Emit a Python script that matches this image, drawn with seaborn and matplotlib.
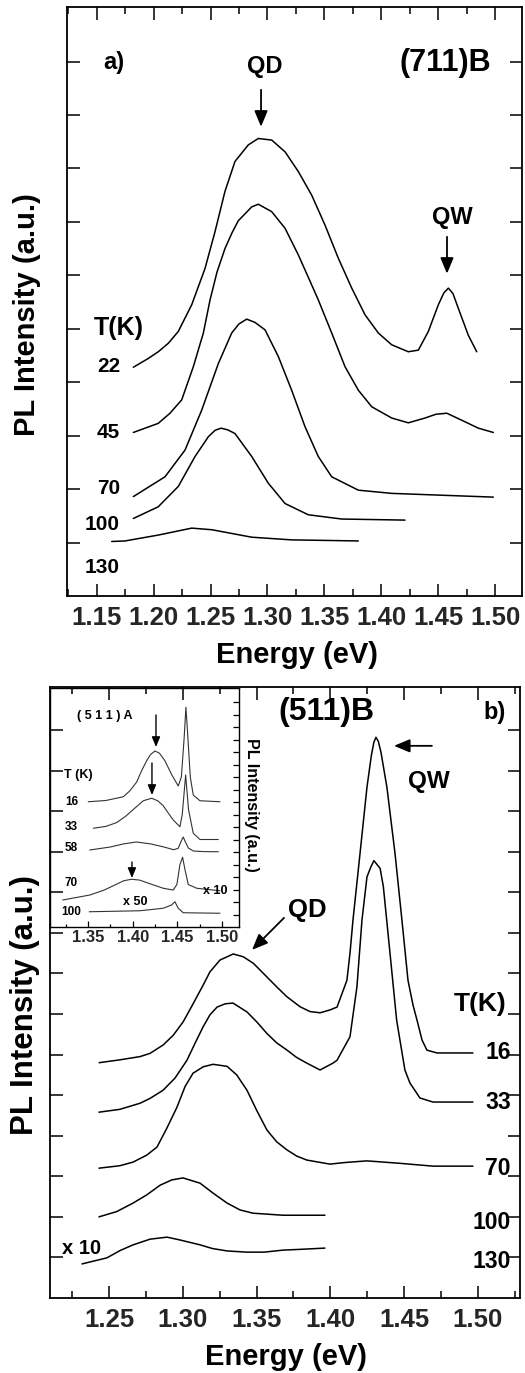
import numpy as np
import pandas as pd
import matplotlib
matplotlib.use('Agg')
import matplotlib.pyplot as plt
from matplotlib.ticker import MultipleLocator, FormatStrFormatter, NullFormatter
import seaborn as sns

# ---------------- Panel a: (711)B ----------------
a22_E = [1.1822, 1.1950, 1.2041, 1.2130, 1.2217, 1.2335, 1.2452, 1.2540, 1.2627, 1.2715, 1.2832, 1.2920,
         1.3038, 1.3155, 1.3272, 1.3389, 1.3506, 1.3623, 1.3741, 1.3858, 1.3975, 1.4092, 1.4238, 1.4326,
         1.4414, 1.4502, 1.4550, 1.4590, 1.4630, 1.4678, 1.4765, 1.4839]
a22_I = [4.28, 4.44, 4.57, 4.73, 4.95, 5.45, 6.13, 6.82, 7.57, 8.13, 8.44, 8.56,
         8.53, 8.31, 7.94, 7.50, 6.94, 6.32, 5.76, 5.26, 4.92, 4.70, 4.57, 4.60,
         4.95, 5.45, 5.67, 5.76, 5.66, 5.38, 4.88, 4.57]
a45_E = [1.1822, 1.2041, 1.2144, 1.2247, 1.2349, 1.2437, 1.2496, 1.2557, 1.2627, 1.2690, 1.2744, 1.2862,
         1.2920, 1.3038, 1.3155, 1.3272, 1.3389, 1.3447, 1.3565, 1.3682, 1.3799, 1.3917, 1.4092, 1.4238,
         1.4385, 1.4480, 1.4576, 1.4736, 1.4853, 1.4985]
a45_I = [3.06, 3.23, 3.42, 3.67, 4.29, 4.92, 5.54, 6.06, 6.50, 6.80, 7.02, 7.28,
         7.33, 7.19, 6.88, 6.38, 5.82, 5.54, 4.92, 4.29, 3.85, 3.54, 3.33, 3.24,
         3.33, 3.40, 3.42, 3.26, 3.14, 3.06]
a70_E = [1.1822, 1.2100, 1.2276, 1.2423, 1.2569, 1.2686, 1.2750, 1.2818, 1.2890, 1.2979, 1.3096, 1.3213,
         1.3330, 1.3447, 1.3565, 1.3799, 1.4092, 1.4985]
a70_I = [1.86, 2.23, 2.73, 3.48, 4.35, 4.92, 5.09, 5.18, 5.12, 4.98, 4.48, 3.85,
         3.17, 2.61, 2.23, 1.98, 1.92, 1.85]
a100_E = [1.1822, 1.2041, 1.2217, 1.2364, 1.2481, 1.2540, 1.2592, 1.2650, 1.2715, 1.2862, 1.3008, 1.3155,
          1.3359, 1.3653, 1.4209]
a100_I = [1.45, 1.67, 2.05, 2.61, 2.98, 3.10, 3.14, 3.11, 3.04, 2.61, 2.11, 1.73,
          1.52, 1.44, 1.42]
a130_E = [1.1632, 1.1749, 1.2041, 1.2335, 1.2511, 1.2862, 1.3213, 1.3799]
a130_I = [1.02, 1.03, 1.14, 1.27, 1.24, 1.10, 1.05, 1.03]
a_temps = ['22', '45', '70', '100', '130']
a_xticks = [1.15, 1.20, 1.25, 1.30, 1.35, 1.40, 1.45, 1.50]

# ---------------- Panel b: (511)B ----------------
b16_E = [1.2433, 1.2573, 1.2710, 1.2778, 1.2868, 1.2936, 1.3003, 1.3071, 1.3139, 1.3184, 1.3252, 1.3342,
         1.3410, 1.3478, 1.3568, 1.3636, 1.3704, 1.3794, 1.3862, 1.3930, 1.3997, 1.4045, 1.4112, 1.4133,
         1.4153, 1.4201, 1.4248, 1.4278, 1.4295, 1.4309, 1.4325, 1.4343, 1.4383, 1.4438, 1.4485, 1.4526,
         1.4560, 1.4587, 1.4621, 1.4654, 1.4722, 1.4790, 1.4966]
b16_I = [5.80, 5.87, 5.95, 6.03, 6.24, 6.48, 6.81, 7.26, 7.72, 8.04, 8.33, 8.48,
         8.41, 8.25, 7.92, 7.67, 7.43, 7.18, 7.06, 7.03, 7.10, 7.17, 7.83, 8.50,
         9.31, 10.96, 12.59, 13.38, 13.70, 13.82, 13.72, 13.45, 12.59, 10.96, 9.31, 7.83,
         7.22, 6.85, 6.36, 6.11, 6.04, 6.04, 6.04]
b33_E = [1.2432, 1.2573, 1.2710, 1.2778, 1.2866, 1.2947, 1.3028, 1.3083, 1.3137, 1.3184, 1.3232, 1.3286,
         1.3340, 1.3435, 1.3500, 1.3570, 1.3636, 1.3706, 1.3771, 1.3840, 1.3930, 1.4018, 1.4045, 1.4133,
         1.4180, 1.4214, 1.4248, 1.4275, 1.4295, 1.4337, 1.4359, 1.4404, 1.4449, 1.4505, 1.4539, 1.4607,
         1.4695, 1.4966]
b33_I = [4.58, 4.65, 4.80, 4.92, 5.12, 5.42, 5.86, 6.28, 6.68, 6.98, 7.17, 7.25,
         7.27, 7.05, 6.81, 6.52, 6.29, 6.11, 5.93, 5.79, 5.62, 5.79, 5.86, 6.44,
         7.67, 9.31, 10.38, 10.63, 10.78, 10.59, 10.14, 8.50, 6.85, 5.62, 5.30, 4.93,
         4.83, 4.83]
b70_E = [1.2432, 1.2573, 1.2663, 1.2755, 1.2825, 1.2891, 1.2960, 1.3015, 1.3069, 1.3139, 1.3205, 1.3300,
         1.3365, 1.3435, 1.3500, 1.3570, 1.3636, 1.3706, 1.3771, 1.3840, 1.3997, 1.4100, 1.4248, 1.4470,
         1.4695, 1.4966]
b70_I = [3.20, 3.26, 3.35, 3.52, 3.72, 4.18, 4.70, 5.21, 5.54, 5.70, 5.76, 5.71,
         5.50, 5.12, 4.63, 4.14, 3.85, 3.65, 3.50, 3.40, 3.30, 3.34, 3.38, 3.32,
         3.25, 3.25]
b100_E = [1.2432, 1.2552, 1.2663, 1.2755, 1.2846, 1.2925, 1.3001, 1.3117, 1.3207, 1.3300, 1.3388, 1.3476,
          1.3679, 1.3963]
b100_I = [2.00, 2.13, 2.34, 2.54, 2.78, 2.91, 2.96, 2.83, 2.58, 2.34, 2.17, 2.09, 2.04, 2.04]
b130_E = [1.2317, 1.2486, 1.2575, 1.2663, 1.2778, 1.2893, 1.2981, 1.3117, 1.3200, 1.3300, 1.3435, 1.3550,
          1.3679, 1.3800, 1.3963]
b130_I = [0.84, 0.99, 1.17, 1.31, 1.45, 1.50, 1.43, 1.31, 1.22, 1.16, 1.13, 1.13, 1.18, 1.20, 1.23]
b_temps = ['16', '33', '70', '100', '130']
b_xticks = [1.25, 1.30, 1.35, 1.40, 1.45, 1.50]

# ---------------- Inset: (511)A ----------------
i16_E = [1.3503, 1.370, 1.3895, 1.397, 1.4045, 1.410, 1.4157, 1.420, 1.425, 1.430, 1.4361, 1.4436, 1.451,
         1.4545, 1.4575, 1.4596, 1.4615, 1.4645, 1.4678, 1.4753, 1.4977]
i16_I = [10.02, 10.12, 10.42, 10.9, 11.6, 12.5, 13.3, 13.8, 14.08, 13.9, 13.3, 12.2, 11.28,
         12.0, 15.0, 17.58, 15.5, 12.0, 10.56, 10.1, 10.02]
i33_E = [1.356, 1.370, 1.382, 1.392, 1.4007, 1.4119, 1.4213, 1.428, 1.4342, 1.440, 1.4454, 1.4529, 1.4555,
         1.4593, 1.4625, 1.4678, 1.4753, 1.4958]
i33_I = [7.9, 8.05, 8.35, 8.85, 9.4, 10.1, 10.3, 10.1, 9.7, 9.1, 8.56, 8.02, 9.0,
         12.16, 9.4, 7.5, 7.0, 7.0]
i58_E = [1.352, 1.375, 1.390, 1.404, 1.420, 1.435, 1.446, 1.451, 1.4545, 1.4566, 1.459, 1.4625, 1.468,
         1.480, 1.496]
i58_I = [6.16, 6.40, 6.65, 6.80, 6.65, 6.40, 6.18, 6.30, 6.90, 7.20, 6.80, 6.30, 6.08, 6.03, 6.02]
i70_E = [1.3217, 1.3522, 1.368, 1.3783, 1.390, 1.3988, 1.408, 1.4157, 1.4342, 1.4454, 1.4495, 1.4529,
         1.4559, 1.4585, 1.4622, 1.4716, 1.4977]
i70_I = [2.16, 2.56, 2.95, 3.3, 3.7, 3.82, 3.75, 3.55, 3.10, 2.96, 3.4, 5.0,
         5.58, 4.6, 3.4, 3.10, 2.90]
i100_E = [1.3515, 1.4082, 1.4342, 1.4436, 1.4473, 1.451, 1.4566, 1.4977]
i100_I = [1.22, 1.30, 1.50, 1.76, 2.02, 1.50, 1.14, 1.10]
i_temps = ['16', '33', '58', '70', '100']
i_xticks = [1.35, 1.40, 1.45, 1.50]


def make_df(Es, Is, temps):
    rows = []
    for E, I, t in zip(Es, Is, temps):
        rows.append(pd.DataFrame({'E': E, 'I': I, 'T': t}))
    return pd.concat(rows, ignore_index=True)


dfA = make_df([a22_E, a45_E, a70_E, a100_E, a130_E], [a22_I, a45_I, a70_I, a100_I, a130_I], a_temps)
dfB = make_df([b16_E, b33_E, b70_E, b100_E, b130_E], [b16_I, b33_I, b70_I, b100_I, b130_I], b_temps)
dfI = make_df([i16_E, i33_E, i58_E, i70_E, i100_E], [i16_I, i33_I, i58_I, i70_I, i100_I], i_temps)

sns.set_theme(style='ticks')
plt.rcParams['font.family'] = ['Liberation Sans', 'DejaVu Sans']
plt.rcParams['font.weight'] = 'bold'
plt.rcParams['axes.linewidth'] = 1.3

W, H = 525, 1373
fig = plt.figure(figsize=(W / 100, H / 100), dpi=100)


def rect(l, t, r, b):
    return [l / W, 1 - b / H, (r - l) / W, (b - t) / H]


axA = fig.add_axes(rect(67, 7, 522, 596))
axB = fig.add_axes(rect(50, 687, 520, 1298))
axI = fig.add_axes(rect(50, 688, 239, 927))
axB.set_zorder(3)
axB.patch.set_alpha(0)
axI.set_zorder(2)

for ax, df in ((axA, dfA), (axB, dfB)):
    sns.lineplot(data=df, x='E', y='I', units='T', estimator=None, sort=False,
                 color='black', lw=1.1, ax=ax, legend=False)
sns.lineplot(data=dfI, x='E', y='I', units='T', estimator=None, sort=False,
             color='#333333', lw=0.8, ax=axI, legend=False)

for ax in (axA, axB, axI):
    ax.set_xlabel('')
    ax.set_ylabel('')
    for s in ax.spines.values():
        s.set_color('black')

# panel a axes
axA.set_xlim(1.1239, 1.5237)
axA.set_ylim(0, 11.02)
axA.set_xticks(a_xticks)
axA.xaxis.set_major_formatter(FormatStrFormatter('%.2f'))
axA.xaxis.set_minor_locator(MultipleLocator(0.025))
axA.set_yticks(range(1, 11))
axA.yaxis.set_major_formatter(NullFormatter())

# panel b axes
axB.set_xlim(1.2100, 1.5285)
axB.set_ylim(0, 15.06)
axB.set_xticks(b_xticks)
axB.xaxis.set_major_formatter(FormatStrFormatter('%.2f'))
axB.xaxis.set_minor_locator(MultipleLocator(0.025))
axB.set_yticks(range(1, 15))
axB.yaxis.set_major_formatter(NullFormatter())

for ax in (axA, axB):
    ax.tick_params(which='both', direction='in', top=True, right=True, color='black', width=1.1)
    ax.tick_params(which='major', length=9, labelsize=18.5, pad=7)
    ax.tick_params(which='minor', length=5)
    for lab in ax.get_xticklabels():
        lab.set_fontweight('bold')

# inset axes
axI.set_xlim(1.3075, 1.519)
axI.set_ylim(0, 19.12)
axI.set_xticks(i_xticks)
axI.xaxis.set_major_formatter(FormatStrFormatter('%.2f'))
axI.xaxis.set_minor_locator(MultipleLocator(0.025))
axI.set_yticks(range(1, 19))
axI.yaxis.set_major_formatter(NullFormatter())
axI.tick_params(which='both', direction='in', top=False, left=False, right=True,
                color='black', width=0.9)
axI.tick_params(which='major', length=4, labelsize=12, pad=2)
axI.tick_params(which='minor', length=2.5)
for lab in axI.get_xticklabels():
    lab.set_fontweight('bold')
for s in axI.spines.values():
    s.set_linewidth(1.0)
axI.set_facecolor('white')


def arrow(ax, x0, y0, x1, y1, ms=16, lw=1.3):
    ax.annotate('', xy=(x1, y1), xytext=(x0, y0),
                arrowprops=dict(arrowstyle='-|>,head_length=0.6,head_width=0.25', color='black',
                                lw=lw, shrinkA=0, shrinkB=0, mutation_scale=ms))


bold = dict(fontweight='bold', color='black')

# panel a annotations
axA.text(1.1652, 9.99, 'a)', fontsize=17, ha='center', va='center', **bold)
axA.text(1.2979, 9.90, 'QD', fontsize=17, ha='center', va='center', **bold)
arrow(axA, 1.2944, 9.47, 1.2944, 8.78)
axA.text(1.4567, 9.97, '(711)B', fontsize=22, ha='center', va='center', **bold)
axA.text(1.4622, 7.09, 'QW', fontsize=17, ha='center', va='center', **bold)
arrow(axA, 1.4578, 6.72, 1.4578, 6.03)
axA.text(1.1696, 5.01, 'T(K)', fontsize=18, ha='center', va='center', **bold)
for t, y in zip(a_temps, [4.29, 3.05, 2.02, 1.33, 0.54]):
    axA.text(1.1705, y, t, fontsize=15, ha='right', va='center', **bold)

# panel b annotations
axB.text(1.397, 14.44, '(511)B', fontsize=23, ha='center', va='center', **bold)
axB.text(1.5115, 14.42, 'b)', fontsize=17, ha='center', va='center', **bold)
arrow(axB, 1.4688, 13.61, 1.4431, 13.61)
axB.text(1.4668, 12.72, 'QW', fontsize=17.5, ha='center', va='center', **bold)
axB.text(1.3841, 9.56, 'QD', fontsize=18.5, ha='center', va='center', **bold)
arrow(axB, 1.3686, 9.37, 1.3469, 8.58)
axB.text(1.5014, 7.25, 'T(K)', fontsize=19, ha='center', va='center', **bold)
for t, y in zip(b_temps, [6.04, 4.81, 3.20, 1.85, 0.89]):
    axB.text(1.5224, y, t, fontsize=16.5, ha='right', va='center', **bold)
axB.text(1.2317, 1.23, 'x 10', fontsize=14.5, ha='center', va='center', **bold)

# inset annotations
axI.text(1.369, 16.88, '( 5 1 1 ) A', fontsize=9, ha='center', va='center', **bold)
axI.text(1.3232, 12.16, 'T (K)', fontsize=9, ha='left', va='center', **bold)
for t, y in zip(i_temps, [10.0, 8.0, 6.32, 3.52, 1.2]):
    axI.text(1.3315, y, t, fontsize=8.5, ha='center', va='center', **bold)
axI.text(1.4026, 2.0, 'x 50', fontsize=9, ha='center', va='center', **bold)
axI.text(1.492, 2.88, 'x 10', fontsize=9, ha='center', va='center', **bold)
arrow(axI, 1.4261, 16.96, 1.4261, 14.4, ms=10, lw=1.0)
arrow(axI, 1.4216, 13.12, 1.4216, 10.56, ms=10, lw=1.0)
arrow(axI, 1.3992, 5.2, 1.3992, 3.92, ms=10, lw=1.0)

# axis titles
fig.text(297 / W, 1 - 655 / H, 'Energy (eV)', fontsize=21, ha='center', va='center', **bold)
fig.text(286 / W, 1 - 1357 / H, 'Energy (eV)', fontsize=21, ha='center', va='center', **bold)
fig.text(27 / W, 1 - 315 / H, 'PL Intensity (a.u.)', fontsize=21, rotation=90,
         ha='center', va='center', **bold)
fig.text(25 / W, 1 - 1005 / H, 'PL Intensity (a.u.)', fontsize=22.5, rotation=90,
         ha='center', va='center', **bold)
fig.text(251 / W, 1 - 805 / H, 'PL Intensity (a.u.)', fontsize=11.5, rotation=270,
         ha='center', va='center', **bold)

fig.savefig('out.png', dpi=100, facecolor='white')
